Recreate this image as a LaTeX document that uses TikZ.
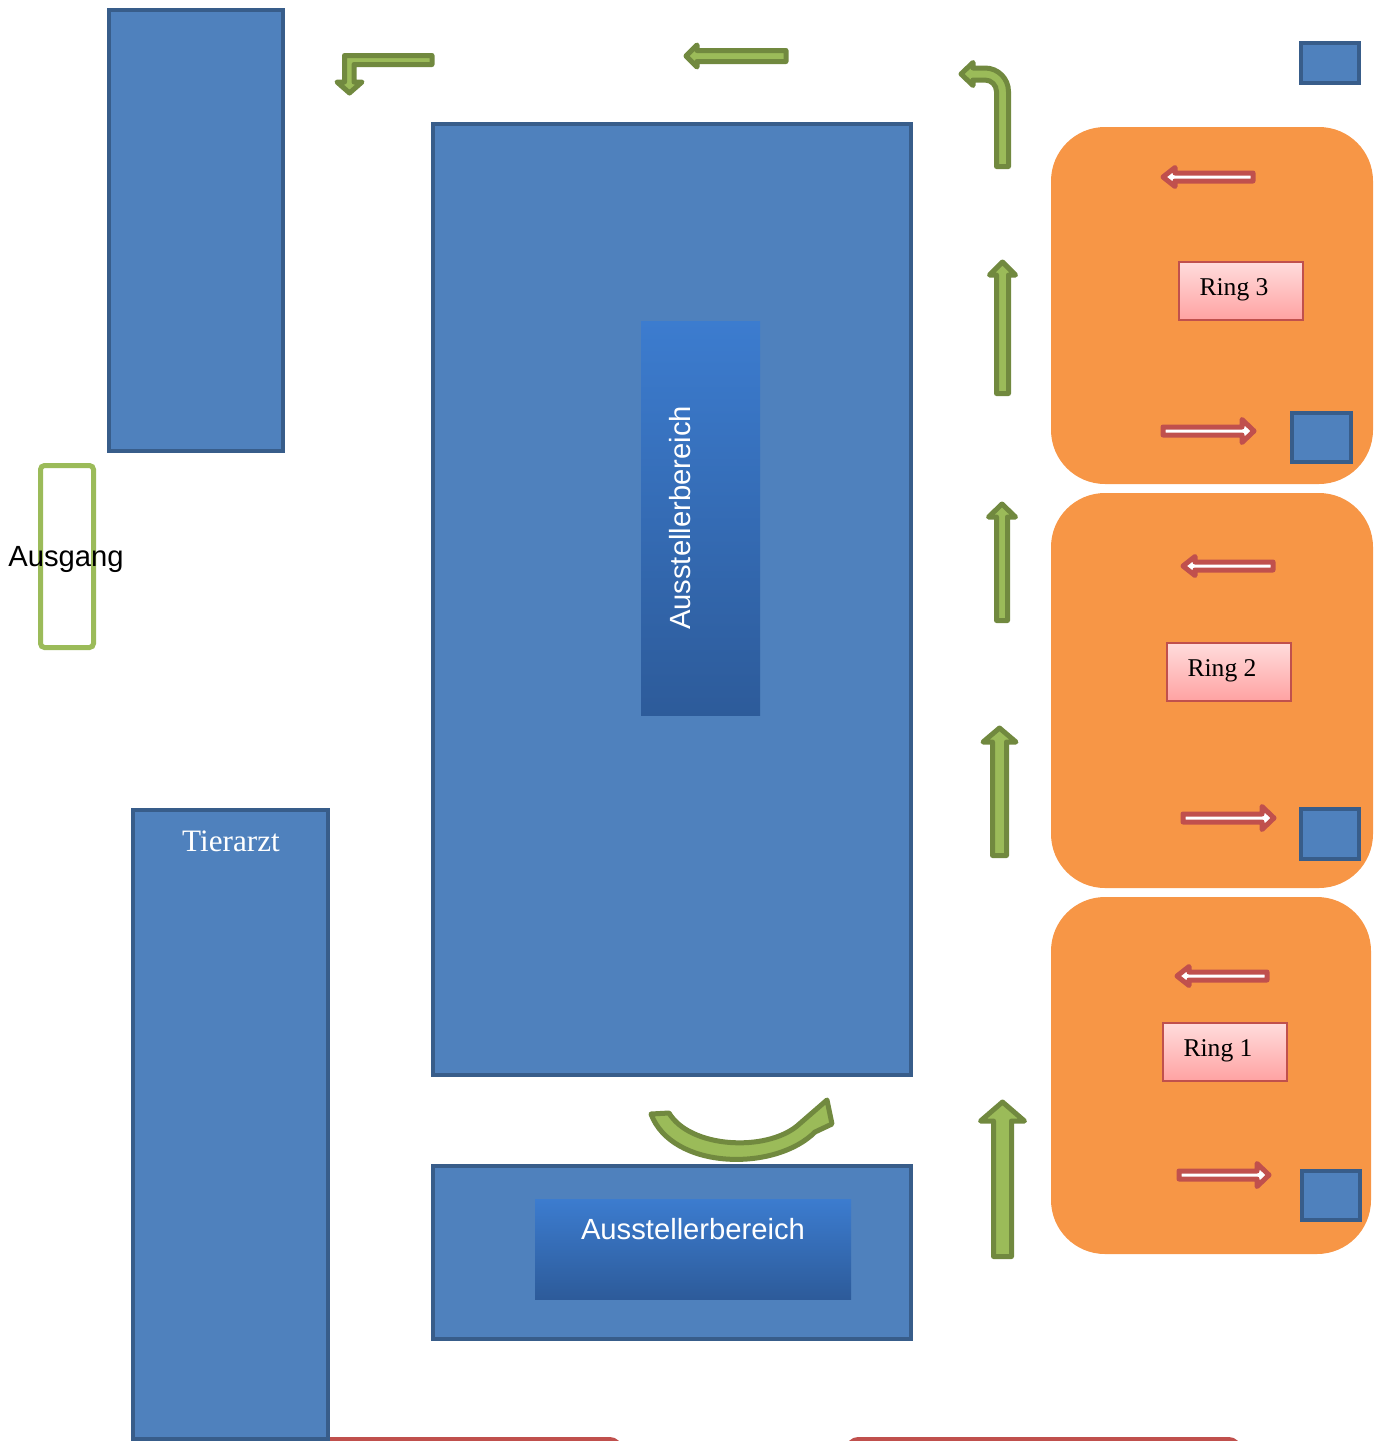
\documentclass[tikz,border=0pt]{standalone}
\usepackage{fontspec}
\setmainfont{Liberation Serif}
\newfontfamily\arialf{Liberation Sans}
\definecolor{blueF}{HTML}{4F81BD}
\definecolor{blueD}{HTML}{385D8A}
\definecolor{orangeF}{HTML}{F79646}
\definecolor{greenF}{HTML}{9BBB59}
\definecolor{greenD}{HTML}{71893F}
\definecolor{redF}{HTML}{C0504D}
\definecolor{pinkT}{HTML}{FFDCDC}
\definecolor{pinkB}{HTML}{FFA2A2}
\definecolor{gradT}{HTML}{3C7CCF}
\definecolor{gradB}{HTML}{2D5B9A}
\tikzset{
  bluebox/.style={fill=blueF, draw=blueD, line width=2.2pt},
  garrow/.style={fill=greenF, draw=greenD, line width=2.5pt, line join=round},
  rarrow/.style={fill=white, draw=redF, line width=2.5pt, line join=round},
  ringarea/.style={fill=orangeF, rounded corners=27pt},
  ringlabel/.style={top color=pinkT, bottom color=pinkB, draw=redF, line width=1pt},
  innerbox/.style={top color=gradT, bottom color=gradB},
  sanslabel/.style={font=\arialf\fontsize{14.6}{17}\selectfont, inner sep=0pt},
  ringtext/.style={font=\fontsize{12.8}{15}\selectfont, inner sep=0pt}
}
\newcommand\gup[6]{\draw[garrow] ({#1-#5},#4) -- ({#1-#5},#3) -- ({#1-#6},#3) -- (#1,#2) -- ({#1+#6},#3) -- ({#1+#5},#3) -- ({#1+#5},#4) -- cycle;}
\newcommand\rright[3]{\draw[rarrow] (#1,{#3-4}) -- ({#2-12},{#3-4}) -- ({#2-12},{#3-11.5}) -- (#2,#3) -- ({#2-12},{#3+11.5}) -- ({#2-12},{#3+4}) -- (#1,{#3+4}) -- cycle;}
\newcommand\rleft[3]{\draw[rarrow] (#2,{#3-4}) -- ({#1+12},{#3-4}) -- ({#1+12},{#3-9.5}) -- (#1,#3) -- ({#1+12},{#3+9.5}) -- ({#1+12},{#3+4}) -- (#2,{#3+4}) -- cycle;}
\begin{document}
\begin{tikzpicture}[x=0.5pt, y=-0.5pt]
\useasboundingbox (0,0) rectangle (1380,1441);
\clip (0,0) rectangle (1380,1441);
% bottom red shapes (cut off)
\fill[redF, rounded corners=6pt] (300,1437) rectangle (622,1500);
\fill[redF, rounded corners=6pt] (846,1437) rectangle (1241,1500);
% blue areas
\draw[bluebox] (109,10) rectangle (283,451);
\draw[bluebox] (133,810) rectangle (328,1439);
\node[font=\fontsize{15.6}{18}\selectfont, text=white, inner sep=0pt] (tierarzt) at (231,841) {Tierarzt};
\draw[bluebox] (433,124) rectangle (911,1075);
\shade[innerbox] (641,321) rectangle (760,715);
\node[sanslabel, text=white, rotate=90] (aus1) at (680,518) {Ausstellerbereich};
\draw[bluebox] (433,1166) rectangle (911,1339);
\shade[innerbox] (535,1199) rectangle (851,1299);
\node[sanslabel, text=white] (aus2) at (693,1229) {Ausstellerbereich};
% Ausgang
\draw[greenF, line width=2.5pt, rounded corners=2pt] (40.5,465.5) rectangle (93.5,647.5);
\node[sanslabel, text=black] (ausgang) at (66,559) {Ausgang};
% small blue square top right
\draw[bluebox] (1301,43) rectangle (1359,83);
% ring areas
\fill[ringarea] (1051,127) rectangle (1373,484);
\fill[ringarea] (1051,493) rectangle (1373,888);
\fill[ringarea] (1051,897) rectangle (1371,1254);
% ring labels
\shade[ringlabel] (1179,262) rectangle (1303,320);
\node[ringtext] (ring3) at (1234,290) {Ring 3};
\shade[ringlabel] (1167,643) rectangle (1291,701);
\node[ringtext] (ring2) at (1222,671) {Ring 2};
\shade[ringlabel] (1163,1023) rectangle (1287,1081);
\node[ringtext] (ring1) at (1218,1051) {Ring 1};
% ring squares
\draw[bluebox] (1292,413) rectangle (1351,462);
\draw[bluebox] (1301,809) rectangle (1359,859);
\draw[bluebox] (1302,1171) rectangle (1360,1220);
% red arrows
\rleft{1163}{1253}{177}
\rright{1163}{1254}{431}
\rleft{1183}{1273}{566}
\rright{1183}{1274}{818}
\rleft{1177}{1267}{976}
\rright{1179}{1269}{1175}
% green up arrows
\gup{1002.5}{262}{275}{393.5}{6}{13}
\gup{1002}{504}{517}{620.5}{5.5}{13.5}
\gup{999.5}{728}{742}{855.5}{7}{16.5}
\gup{1002.5}{1102}{1121}{1256.5}{9}{22}
% top horizontal arrow
\draw[garrow] (786,50.5) -- (697,50.5) -- (697,45) -- (686,56) -- (697,67) -- (697,61.5) -- (786,61.5) -- cycle;
% top-left bent arrow
\draw[garrow] (432,55.5) -- (344.5,55.5) -- (344.5,82) -- (337,82) -- (349.5,93) -- (362,82) -- (354,82) -- (354,64.5) -- (432,64.5) -- cycle;
% top-right bent arrow
\draw[garrow] (996.5,166.5) -- (996.5,91.5) .. controls (996.5,85.2) and (991.3,80) .. (985,80) -- (973,80) -- (973,85.5) -- (961,74) -- (973,62.5) -- (973,68) -- (985,68) .. controls (998,68) and (1008.5,78.5) .. (1008.5,91.5) -- (1008.5,166.5) -- cycle;
% curved arrow at bottom
\draw[garrow] (651,1114) .. controls (672,1170) and (775,1172) .. (815,1132) -- (832,1124) -- (827,1100) -- (797,1126) .. controls (765,1152) and (690,1148) .. (669,1113) -- cycle;
\end{tikzpicture}
\end{document}
